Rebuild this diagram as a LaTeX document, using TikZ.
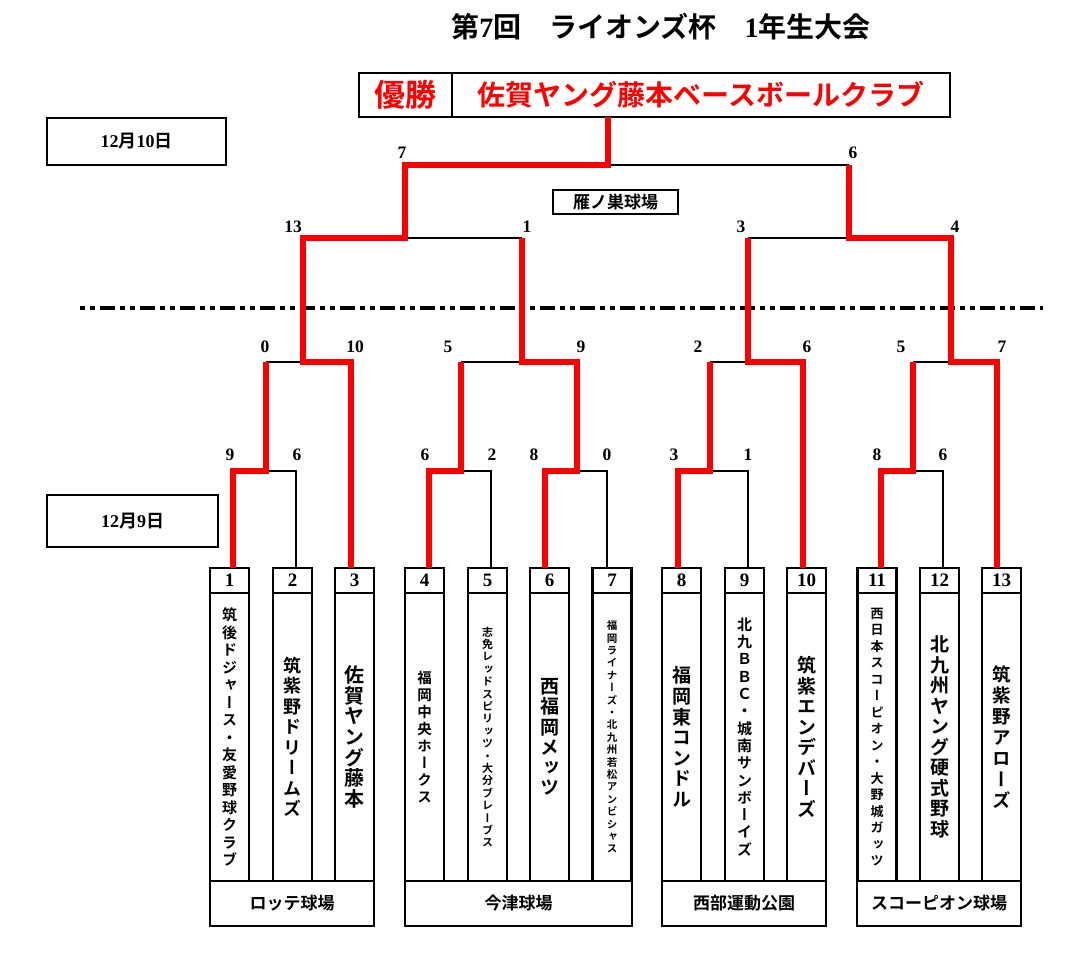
\documentclass[tikz,border=0pt]{standalone}
\usepackage{fontspec}
\usetikzlibrary{positioning}
\newfontfamily\jpfont{Noto Sans CJK JP}[UprightFont=* Bold]
\newfontfamily\vjpfont{Noto Sans CJK JP}[UprightFont=* Bold, RawFeature={+vert}]
\newfontfamily\numfont{Liberation Serif}[UprightFont=* Bold]
\newcommand\jn[1]{{\numfont #1}}
\def\vcolEnd{}
\newcommand\vcol[1]{\vbox{\vcolStep#1\vcolEnd}}
\def\vcolStep#1{\ifx#1\vcolEnd\else\hbox to 0pt{\hss#1\hss}\expandafter\vcolStep\fi}
\tikzstyle{winCell}=[draw, line width=2.2pt, outer sep=0pt, minimum height=44pt, inner sep=0pt, text=red]
\tikzstyle{dateBox}=[draw, line width=2.2pt, outer sep=0pt, inner sep=0pt, font=\jpfont\fontsize{18}{18}\selectfont]
\tikzstyle{venueBox}=[draw, line width=2.2pt, outer sep=0pt, minimum height=45pt, inner sep=0pt, font=\jpfont\fontsize{17}{17}\selectfont]
\tikzstyle{numCell}=[draw, line width=2.2pt, outer sep=0pt, minimum width=39pt, minimum height=25pt, inner sep=0pt, font=\numfont\fontsize{19}{19}\selectfont]
\tikzstyle{nameCell}=[draw, line width=2.2pt, outer sep=0pt, minimum width=39pt, minimum height=288pt, inner sep=0pt]
\tikzstyle{score}=[inner sep=0pt, font=\numfont\fontsize{17.5}{17.5}\selectfont]
\tikzstyle{winLine}=[draw=red, line width=5.5pt]
\tikzstyle{loseLine}=[draw=black, line width=2pt]

\begin{document}
\begin{tikzpicture}[x=1pt, y=-1pt]
\useasboundingbox (0,0) rectangle (1080,971);
\node (title) [font=\jpfont\fontsize{28}{28}\selectfont] at (661,27) {第\jn{7}回　ライオンズ杯　\jn{1}年生大会};
\node (winLabel) [winCell, minimum width=93pt, font=\jpfont\fontsize{31}{31}\selectfont] at (405.5,95) {優勝};
\node (winTeam) [winCell, minimum width=498pt, right=0pt of winLabel, font=\jpfont\fontsize{28}{28}\selectfont] {佐賀ヤング藤本ベースボールクラブ};
\node (dateTen) [dateBox, minimum width=179pt, minimum height=47pt] at (136.5,141.5) {\jn{12}月\jn{10}日};
\node (dateNine) [dateBox, minimum width=171pt, minimum height=52pt] at (132.5,521) {\jn{12}月\jn{9}日};
\node (venueKari) [dateBox, minimum width=125pt, minimum height=24pt, font=\jpfont\fontsize{17}{17}\selectfont] at (615.5,202) {雁ノ巣球場};

\draw[line width=4pt, dash pattern=on 5pt off 5pt on 5pt off 5pt on 15pt off 5pt] (80,308) -- (1043,308);

\node (c1) [numCell] at (229.5,580.5) {1};
\node (n1) [nameCell, below=0pt of c1, font=\vjpfont\fontsize{15}{17.5}\selectfont] {\vcol{筑後ドジャース・友愛野球クラブ}};
\node (c2) [numCell] at (292.5,580.5) {2};
\node (n2) [nameCell, below=0pt of c2, font=\vjpfont\fontsize{18}{20.5}\selectfont] {\vcol{筑紫野ドリームズ}};
\node (c3) [numCell] at (354.5,580.5) {3};
\node (n3) [nameCell, below=0pt of c3, font=\vjpfont\fontsize{20}{20.7}\selectfont] {\vcol{佐賀ヤング藤本}};
\node (c4) [numCell] at (424.5,580.5) {4};
\node (n4) [nameCell, below=0pt of c4, font=\vjpfont\fontsize{14.5}{17}\selectfont] {\vcol{福岡中央ホークス}};
\node (c5) [numCell] at (487.5,580.5) {5};
\node (n5) [nameCell, below=0pt of c5, font=\vjpfont\fontsize{11}{12.4}\selectfont] {\vcol{志免レッドスピリッツ・大分ブレーブス}};
\node (c6) [numCell] at (549.5,580.5) {6};
\node (n6) [nameCell, below=0pt of c6, font=\vjpfont\fontsize{19}{20.3}\selectfont] {\vcol{西福岡メッツ}};
\node (c7) [numCell] at (612,580.5) {7};
\node (n7) [nameCell, below=0pt of c7, font=\vjpfont\fontsize{10.5}{12.4}\selectfont] {\vcol{福岡ライナーズ・北九州若松アンビシャス}};
\node (c8) [numCell] at (681.5,580.5) {8};
\node (n8) [nameCell, below=0pt of c8, font=\vjpfont\fontsize{19}{20.6}\selectfont] {\vcol{福岡東コンドル}};
\node (c9) [numCell] at (744.5,580.5) {9};
\node (n9) [nameCell, below=0pt of c9, font=\vjpfont\fontsize{15}{17.3}\selectfont] {\vcol{北九ＢＢＣ・城南サンボーイズ}};
\node (c10) [numCell] at (806.5,580.5) {10};
\node (n10) [nameCell, below=0pt of c10, font=\vjpfont\fontsize{19}{20.5}\selectfont] {\vcol{筑紫エンデバーズ}};
\node (c11) [numCell] at (877,580.5) {11};
\node (n11) [nameCell, below=0pt of c11, font=\vjpfont\fontsize{13}{16.5}\selectfont] {\vcol{西日本スコーピオン・大野城ガッツ}};
\node (c12) [numCell] at (939.5,580.5) {12};
\node (n12) [nameCell, below=0pt of c12, font=\vjpfont\fontsize{19}{20.5}\selectfont] {\vcol{北九州ヤング硬式野球}};
\node (c13) [numCell] at (1001.5,580.5) {13};
\node (n13) [nameCell, below=0pt of c13, font=\vjpfont\fontsize{18.5}{20.9}\selectfont] {\vcol{筑紫野アローズ}};

\node (venueLotte) [venueBox, minimum width=164pt] at (292,903.5) {ロッテ球場};
\node (venueImazu) [venueBox, minimum width=227pt] at (518.5,903.5) {今津球場};
\node (venueSeibu) [venueBox, minimum width=164pt] at (744,903.5) {西部運動公園};
\node (venueScorpion) [venueBox, minimum width=164pt] at (939,903.5) {スコーピオン球場};

\coordinate (j1) at (266,471);
\coordinate (j2) at (461,471);
\coordinate (j3) at (577,471);
\coordinate (j4) at (710,471);
\coordinate (j5) at (913,471);
\coordinate (k1) at (303,362);
\coordinate (k2) at (522,362);
\coordinate (k3) at (748,362);
\coordinate (k4) at (951,362);
\coordinate (l1) at (405,238);
\coordinate (l2) at (849,238);
\coordinate (final) at (608,165);

\path[loseLine] ([xshift=3.5pt]c2.north) |- (j1);
\path[loseLine] (j1 |- k1) -- (k1);
\path[loseLine] ([xshift=3.5pt]c5.north) |- (j2);
\path[loseLine] (j2 |- k2) -- (k2);
\path[loseLine] ([xshift=-5pt]c7.north) |- (j3);
\path[loseLine] (l1) -- (k2 |- l1);
\path[loseLine] ([xshift=3.5pt]c9.north) |- (j4);
\path[loseLine] (j4 |- k3) -- (k3);
\path[loseLine] ([xshift=3.5pt]c12.north) |- (j5);
\path[loseLine] (j5 |- k4) -- (k4);
\path[loseLine] (k3 |- l2) -- (l2);
\path[loseLine] (final) -- (l2 |- final);

\path[winLine] ([xshift=3.5pt]c1.north) |- (j1) -- (j1 |- k1);
\path[winLine] ([xshift=-3.5pt]c3.north) |- (k1) -- (k1 |- l1) -- (l1) -- (l1 |- final) -- (final) -- (final |- winTeam.south);
\path[winLine] ([xshift=4.5pt]c4.north) |- (j2) -- (j2 |- k2);
\path[winLine] ([xshift=-4.5pt]c6.north) |- (j3) -- (j3 |- k2) -- (k2) -- (k2 |- l1);
\path[winLine] ([xshift=-3.5pt]c8.north) |- (j4) -- (j4 |- k3);
\path[winLine] ([xshift=-3.5pt]c10.north) |- (k3) -- (k3 |- l2);
\path[winLine] ([xshift=4pt]c11.north) |- (j5) -- (j5 |- k4);
\path[winLine] ([xshift=-4.5pt]c13.north) |- (k4) -- (k4 |- l2) -- (l2) -- (l2 |- final);

\node (sc1) [score] at (230,455) {9};
\node (sc2) [score] at (297,455) {6};
\node (sc3) [score] at (425,455) {6};
\node (sc4) [score] at (492,455) {2};
\node (sc5) [score] at (534,455) {8};
\node (sc6) [score] at (607,455) {0};
\node (sc7) [score] at (674,455) {3};
\node (sc8) [score] at (748,455) {1};
\node (sc9) [score] at (877,455) {8};
\node (sc10) [score] at (943,455) {6};
\node (sc11) [score] at (265,347) {0};
\node (sc12) [score] at (355,347) {10};
\node (sc13) [score] at (448,347) {5};
\node (sc14) [score] at (581,347) {9};
\node (sc15) [score] at (698,347) {2};
\node (sc16) [score] at (807,347) {6};
\node (sc17) [score] at (901,347) {5};
\node (sc18) [score] at (1002,347) {7};
\node (sc19) [score] at (293,227) {13};
\node (sc20) [score] at (527,227) {1};
\node (sc21) [score] at (741,227) {3};
\node (sc22) [score] at (955,227) {4};
\node (sc23) [score] at (402,153) {7};
\node (sc24) [score] at (853,153) {6};
\end{tikzpicture}
\end{document}
